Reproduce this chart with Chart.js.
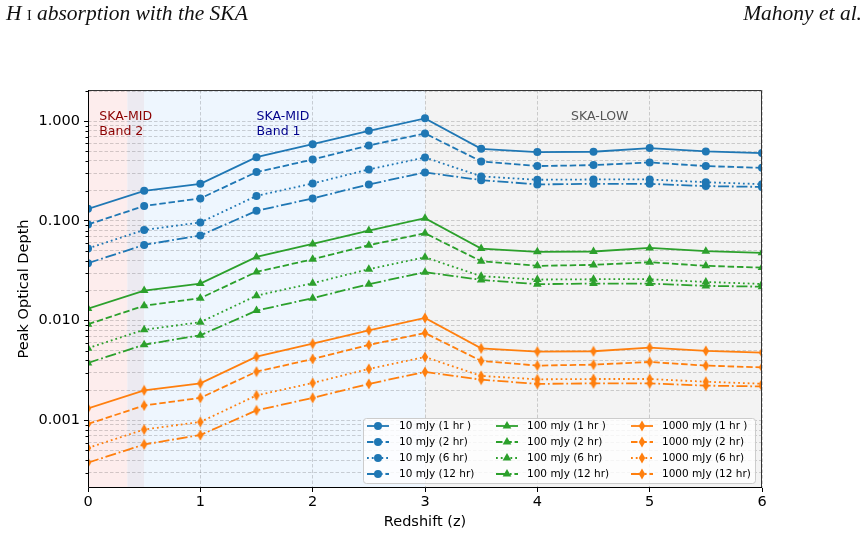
<!DOCTYPE html>
<html>
<head>
<meta charset="utf-8">
<script src="https://cdn.jsdelivr.net/npm/chart.js@4.4.1/dist/chart.umd.min.js"></script>
<style>
  body { margin: 0; background: #fff; }
  #wrap { position: relative; width: 868px; height: 536px; }
  .hdr { position: absolute; top: 1px; font-family: "Liberation Serif", serif; font-style: italic; font-size: 21.5px; color: #111; white-space: nowrap; }
  .sc { font-style: normal; font-size: 14px; }
</style>
</head>
<body>
<div id="wrap">
  <canvas id="myChart" width="868" height="536"></canvas>
  <div class="hdr" style="left:6px;">H <span class="sc">I</span> absorption with the SKA</div>
  <div class="hdr" style="right:6px;">Mahony et al.</div>
</div>
<script>
const redshift = [0, 0.5, 1, 1.5, 2, 2.5, 3, 3.5, 4, 4.5, 5, 5.5, 6];

// 10 mJy sources
const tau10_1hr  = [0.132, 0.200, 0.235, 0.435, 0.587, 0.800, 1.065, 0.527, 0.489, 0.493, 0.536, 0.497, 0.478];
const tau10_2hr  = [0.092, 0.141, 0.168, 0.308, 0.412, 0.570, 0.752, 0.394, 0.354, 0.362, 0.385, 0.354, 0.340];
const tau10_6hr  = [0.0529, 0.081, 0.0964, 0.178, 0.237, 0.328, 0.432, 0.279, 0.258, 0.260, 0.260, 0.244, 0.233];
const tau10_12hr = [0.0377, 0.0574, 0.0713, 0.126, 0.168, 0.232, 0.306, 0.256, 0.232, 0.235, 0.235, 0.223, 0.219];

// 100 mJy sources
const tau100_1hr  = [0.0132, 0.0200, 0.0235, 0.0435, 0.0587, 0.0800, 0.1065, 0.0527, 0.0489, 0.0493, 0.0536, 0.0497, 0.0478];
const tau100_2hr  = [0.0092, 0.0141, 0.0168, 0.0308, 0.0412, 0.0570, 0.0752, 0.0394, 0.0354, 0.0362, 0.0385, 0.0354, 0.0340];
const tau100_6hr  = [0.00529, 0.0081, 0.00964, 0.0178, 0.0237, 0.0328, 0.0432, 0.0279, 0.0258, 0.0260, 0.0260, 0.0244, 0.0233];
const tau100_12hr = [0.00377, 0.00574, 0.00713, 0.0126, 0.0168, 0.0232, 0.0306, 0.0256, 0.0232, 0.0235, 0.0235, 0.0223, 0.0219];

// 1000 mJy sources
const tau1000_1hr  = [0.00132, 0.00200, 0.00235, 0.00435, 0.00587, 0.00800, 0.01065, 0.00527, 0.00489, 0.00493, 0.00536, 0.00497, 0.00478];
const tau1000_2hr  = [0.00092, 0.00141, 0.00168, 0.00308, 0.00412, 0.00570, 0.00752, 0.00394, 0.00354, 0.00362, 0.00385, 0.00354, 0.00340];
const tau1000_6hr  = [0.000529, 0.00081, 0.000964, 0.00178, 0.00237, 0.00328, 0.00432, 0.00279, 0.00258, 0.00260, 0.00260, 0.00244, 0.00233];
const tau1000_12hr = [0.000377, 0.000574, 0.000713, 0.00126, 0.00168, 0.00232, 0.00306, 0.00256, 0.00232, 0.00235, 0.00235, 0.00223, 0.00219];

const xTicks = [0, 1, 2, 3, 4, 5, 6];
const yMajorTicks = [0.001, 0.01, 0.1, 1];
const yMinorSteps = [2, 3, 4, 5, 6, 7, 8, 9];

const blue = '#1f77b4', green = '#2ca02c', orange = '#ff7f0e';
const solid = [], dashed = [6.5, 2.8], dotted = [1.8, 3], dashdot = [11, 2.8, 1.8, 2.8];

function makeDiamond(color) {
    const c = document.createElement('canvas');
    c.width = 8; c.height = 12;
    const g = c.getContext('2d');
    g.fillStyle = color;
    g.beginPath();
    g.moveTo(4, 0.5); g.lineTo(7.2, 6); g.lineTo(4, 11.5); g.lineTo(0.8, 6);
    g.closePath();
    g.fill();
    return c;
}
const diamond = makeDiamond(orange);

function series(label, values, color, dash, marker, radius) {
    return {
        label: label,
        data: values.map((v, i) => ({x: redshift[i], y: v})),
        borderColor: color,
        backgroundColor: color,
        borderWidth: 1.8,
        borderDash: dash,
        pointStyle: marker,
        pointRadius: radius,
        pointBorderWidth: 0,
        pointBackgroundColor: color,
        tension: 0,
        fill: false
    };
}

const datasets = [
    series('10 mJy (1 hr )', tau10_1hr, blue, solid, 'circle', 4),
    series('10 mJy (2 hr)', tau10_2hr, blue, dashed, 'circle', 4),
    series('10 mJy (6 hr)', tau10_6hr, blue, dotted, 'circle', 4),
    series('10 mJy (12 hr)', tau10_12hr, blue, dashdot, 'circle', 4),
    series('100 mJy (1 hr )', tau100_1hr, green, solid, 'triangle', 5),
    series('100 mJy (2 hr)', tau100_2hr, green, dashed, 'triangle', 5),
    series('100 mJy (6 hr)', tau100_6hr, green, dotted, 'triangle', 5),
    series('100 mJy (12 hr)', tau100_12hr, green, dashdot, 'triangle', 5),
    series('1000 mJy (1 hr )', tau1000_1hr, orange, solid, diamond, 5),
    series('1000 mJy (2 hr)', tau1000_2hr, orange, dashed, diamond, 5),
    series('1000 mJy (6 hr)', tau1000_6hr, orange, dotted, diamond, 5),
    series('1000 mJy (12 hr)', tau1000_12hr, orange, dashdot, diamond, 5)
];

function isMajor(v) {
    const l = Math.log10(v);
    return Math.abs(l - Math.round(l)) < 1e-6;
}

// shaded telescope bands + labels + frame
const bands = {
    id: 'bands',
    beforeDraw(chart) {
        const {ctx, chartArea: a, scales: {x}} = chart;
        const fills = [
            [0, 0.35, '#fdeded'],
            [0.35, 0.5, '#eceaf1'],
            [0.5, 3, '#eef6fe'],
            [3, 6, '#f3f3f3']
        ];
        ctx.save();
        fills.forEach(([z0, z1, col]) => {
            const x0 = x.getPixelForValue(z0), x1 = x.getPixelForValue(z1);
            ctx.fillStyle = col;
            ctx.fillRect(x0, a.top, x1 - x0, a.bottom - a.top);
        });
        ctx.restore();
    },
    beforeDatasetsDraw(chart) {
        const {ctx, scales: {x, y}} = chart;
        ctx.save();
        ctx.font = '12.5px "DejaVu Sans"';
        ctx.textBaseline = 'middle';
        ctx.textAlign = 'left';
        ctx.fillStyle = '#8b0000';
        ctx.fillText('SKA-MID', x.getPixelForValue(0.1), 117);
        ctx.fillText('Band 2', x.getPixelForValue(0.1), 132);
        ctx.fillStyle = '#00008b';
        ctx.fillText('SKA-MID', x.getPixelForValue(1.5), 117);
        ctx.fillText('Band 1', x.getPixelForValue(1.5), 132);
        ctx.fillStyle = '#555555';
        ctx.fillText('SKA-LOW', x.getPixelForValue(4.3), 117);
        ctx.restore();
    },
    afterDraw(chart) {
        const {ctx, chartArea: a, scales: {y}} = chart;
        ctx.save();
        // minor y ticks
        ctx.strokeStyle = '#000';
        ctx.lineWidth = 1;
        y.ticks.forEach(t => {
            if (!isMajor(t.value)) {
                const py = Math.round(y.getPixelForValue(t.value)) + 0.5;
                ctx.beginPath();
                ctx.moveTo(a.left - 2.5, py);
                ctx.lineTo(a.left, py);
                ctx.stroke();
            }
        });
        // frame
        ctx.strokeStyle = '#333';
        ctx.beginPath();
        ctx.moveTo(a.left, a.top + 0.5); ctx.lineTo(a.right - 0.5, a.top + 0.5); ctx.lineTo(a.right - 0.5, a.bottom);
        ctx.stroke();
        ctx.strokeStyle = '#000';
        ctx.beginPath();
        ctx.moveTo(a.left + 0.5, a.top); ctx.lineTo(a.left + 0.5, a.bottom - 0.5); ctx.lineTo(a.right, a.bottom - 0.5);
        ctx.stroke();
        ctx.restore();
    }
};

function drawMarker(ctx, style, x, y, color, r) {
    ctx.fillStyle = color;
    if (style === 'circle') {
        ctx.beginPath();
        ctx.arc(x, y, r, 0, Math.PI * 2);
        ctx.fill();
    } else if (style === 'triangle') {
        ctx.beginPath();
        for (let k = 0; k < 3; k++) {
            const ang = k * 2 * Math.PI / 3;
            const px = x + Math.sin(ang) * r, py = y - Math.cos(ang) * r;
            if (k === 0) ctx.moveTo(px, py); else ctx.lineTo(px, py);
        }
        ctx.closePath();
        ctx.fill();
    } else {
        ctx.drawImage(style, x - style.width / 2, y - style.height / 2);
    }
}

// legend inside the axes, 3 columns x 4 rows
const boxLegend = {
    id: 'boxLegend',
    afterDraw(chart) {
        const ctx = chart.ctx;
        const left = 363.5, top = 418.5, w = 392, h = 65;
        const colHandle = [367, 496, 631];
        const colText = [399, 527, 662];
        const rowY = [426, 442, 458, 474];
        ctx.save();
        ctx.beginPath();
        ctx.roundRect(left, top, w, h, 3);
        ctx.fillStyle = 'rgba(255,255,255,0.8)';
        ctx.fill();
        ctx.strokeStyle = '#cccccc';
        ctx.lineWidth = 1;
        ctx.stroke();
        ctx.font = '10.5px "DejaVu Sans"';
        ctx.textBaseline = 'middle';
        chart.data.datasets.forEach((ds, i) => {
            const col = Math.floor(i / 4), row = i % 4;
            const hx = colHandle[col], hy = rowY[row];
            ctx.strokeStyle = ds.borderColor;
            ctx.lineWidth = ds.borderWidth;
            ctx.setLineDash(ds.borderDash);
            ctx.beginPath();
            ctx.moveTo(hx, hy);
            ctx.lineTo(hx + 22, hy);
            ctx.stroke();
            ctx.setLineDash([]);
            drawMarker(ctx, ds.pointStyle, hx + 11, hy, ds.borderColor, ds.pointRadius);
            ctx.fillStyle = '#000';
            ctx.fillText(ds.label, colText[col], hy + 0.5);
        });
        ctx.restore();
    }
};

const gridDash = [3.5, 2];
const tickFont = {family: 'DejaVu Sans', size: 14.5};

new Chart(document.getElementById('myChart'), {
    type: 'line',
    data: {datasets: datasets},
    plugins: [bands, boxLegend],
    options: {
        responsive: false,
        animation: false,
        devicePixelRatio: 1,
        layout: {padding: {top: 90, right: 106, left: 0, bottom: 0}},
        plugins: {legend: {display: false}, tooltip: {enabled: false}},
        scales: {
            x: {
                type: 'linear',
                min: 0,
                max: 6,
                afterBuildTicks: (scale) => { scale.ticks = xTicks.map(v => ({value: v})); },
                afterFit: (scale) => { scale.height = 48; },
                ticks: {font: tickFont, color: '#000', padding: 2, maxRotation: 0},
                grid: {color: 'rgba(0,0,0,0.17)', lineWidth: 1, tickLength: 4, tickColor: '#000'},
                border: {display: false, dash: gridDash},
                title: {display: true, text: 'Redshift (z)', font: tickFont, color: '#000', padding: {top: 0, bottom: 5}}
            },
            y: {
                type: 'logarithmic',
                min: 0.00021,
                max: 2.05,
                afterBuildTicks: (scale) => {
                    const t = [];
                    yMajorTicks.forEach(m => {
                        t.push({value: m, major: true});
                        yMinorSteps.forEach(s => {
                            const v = m * s;
                            if (v <= 2.05) t.push({value: v, major: false});
                        });
                    });
                    t.unshift({value: 0.0009, major: false}, {value: 0.0008, major: false}, {value: 0.0007, major: false},
                        {value: 0.0006, major: false}, {value: 0.0005, major: false}, {value: 0.0004, major: false}, {value: 0.0003, major: false});
                    scale.ticks = t.sort((a, b) => a.value - b.value);
                },
                afterFit: (scale) => { scale.width = 88; },
                ticks: {
                    font: tickFont,
                    color: '#000',
                    padding: 4,
                    autoSkip: false,
                    callback: (value) => isMajor(value) ? value.toFixed(3) : ''
                },
                grid: {
                    color: 'rgba(0,0,0,0.17)',
                    lineWidth: 1,
                    tickLength: 4,
                    tickColor: (c) => (c.tick && isMajor(c.tick.value)) ? '#000' : 'rgba(0,0,0,0)'
                },
                border: {display: false, dash: gridDash},
                title: {display: true, text: 'Peak Optical Depth', font: tickFont, color: '#000', padding: {top: 16, bottom: 0}}
            }
        }
    }
});
</script>
</body>
</html>
